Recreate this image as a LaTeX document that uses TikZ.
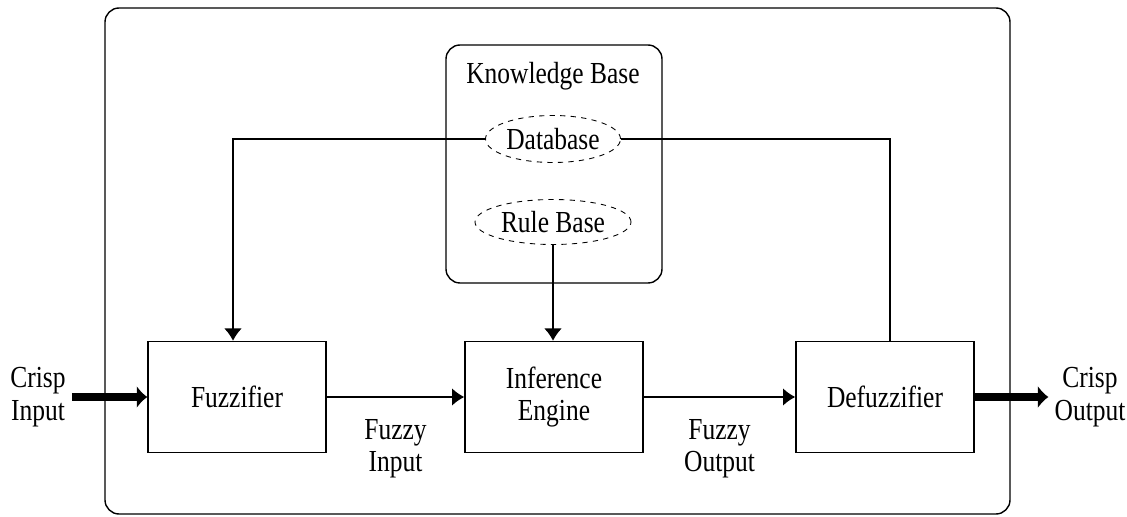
\documentclass[tikz,border=0pt]{standalone}
\usepackage{graphicx}
\usepackage{fontspec}
\setmainfont{Liberation Serif}
\usetikzlibrary{shapes.geometric, arrows.meta, positioning}
\newcommand{\tallword}[1]{\scalebox{1}[1.2]{#1}}

\begin{document}
\begin{tikzpicture}[x=0.02cm, y=-0.02cm,
    txt/.style={font=\fontsize{14.5}{18.5}\selectfont, align=center},
    blockbox/.style={draw, line width=0.8pt, minimum width=178*0.02cm, minimum height=111*0.02cm, txt},
    kbell/.style={draw, dashed, ellipse, line width=0.5pt, inner sep=0pt, txt},
    flow/.style={-{Latex[length=7pt, width=10pt]}, line width=0.8pt},
    crisp/.style={-{Latex[length=6pt, width=13pt]}, line width=4pt}]
        \useasboundingbox (0,0) rectangle (1127,517);

        % Cornice esterna e base di conoscenza
        \draw[line width=0.8pt, rounded corners=8pt] (105,8) rectangle (1010,514);
        \draw[line width=0.8pt, rounded corners=8pt] (446,45) rectangle (662,283);
        \node[txt] (kb) at (553,76) {\tallword{Knowledge Base}};
        \node[kbell, minimum width=135*0.02cm, minimum height=47*0.02cm] (db) at (553,139) {\tallword{Database}};
        \node[kbell, minimum width=156*0.02cm, minimum height=45*0.02cm] (rb) at (553,222) {\tallword{Rule Base}};

        % Blocchi
        \node[blockbox] (fuz) at (237,397) {\tallword{Fuzzifier}};
        \node[blockbox] (inf) at (554,397) {\tallword{Inference}\\\tallword{Engine}};
        \node[blockbox] (defuz) at (885,397) {\tallword{Defuzzifier}};

        % Ingressi e uscite
        \node[txt] (cin) at (38,397) {\tallword{Crisp}\\\tallword{Input}};
        \node[txt] (cout) at (1090,397) {\tallword{Crisp}\\\tallword{Output}};
        \draw[crisp] (cin.east) -- (fuz.west);
        \draw[crisp] (defuz.east) -- (cout.west);

        % Collegamenti
        \draw[flow] (db.west) -| ([xshift=-4*0.02cm]fuz.north);
        \draw[line width=0.8pt] (db.east) -| ([xshift=5*0.02cm]defuz.north);
        \draw[flow] (rb.south) -- (rb.south |- inf.north);
        \draw[flow] (fuz.east) -- node[txt, below=9pt] (fin) {\tallword{Fuzzy}\\\tallword{Input}} (inf.west);
        \draw[flow] (inf.east) -- node[txt, below=9pt] (fout) {\tallword{Fuzzy}\\\tallword{Output}} (defuz.west);
    \end{tikzpicture}
\end{document}
